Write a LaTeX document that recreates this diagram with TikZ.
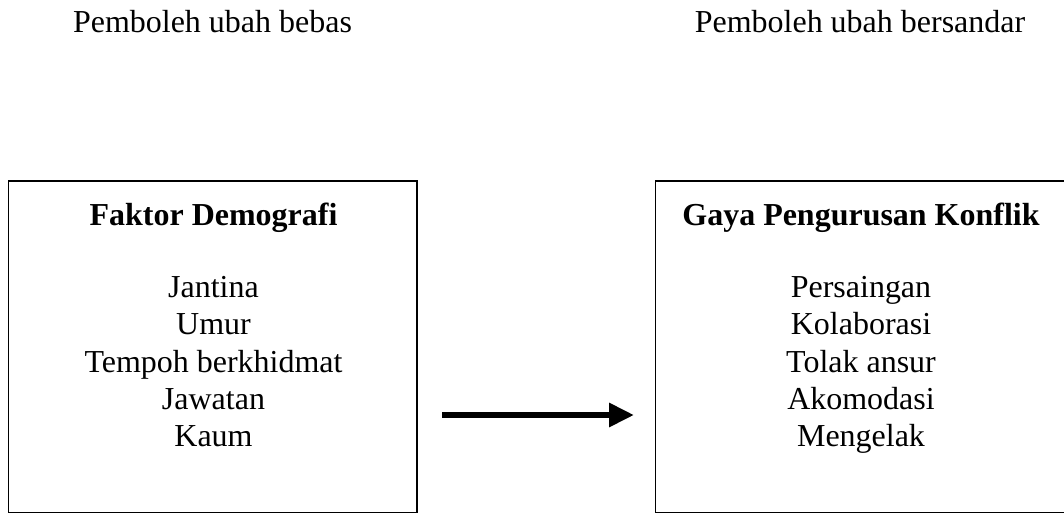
\documentclass[tikz,border=0pt]{standalone}
\usepackage{fontspec}
\setmainfont{Liberation Serif}
\usetikzlibrary{arrows.meta}

\begin{document}
\begin{tikzpicture}
\tikzset{kotak/.style={draw, line width=0.8pt, inner sep=0pt, minimum height=6.64cm},
         teks/.style={inner sep=0pt, font=\fontsize{18.2}{21.2}\selectfont},
         tajuk/.style={teks, font=\fontsize{18.2}{21.2}\selectfont\bfseries}}
\useasboundingbox (0, 0) rectangle (21.28, 10.24);
\clip (0, 0) rectangle (21.28, 10.24);
\node[teks, anchor=base] (bebas) at (4.25, 9.58) {Pemboleh ubah bebas};
\node[teks, anchor=base] (bersandar) at (17.2, 9.58) {Pemboleh ubah bersandar};
\node[kotak, minimum width=8.17cm] (kiri) at (4.255, 3.30) {};
\node[kotak, minimum width=8.26cm] (kanan) at (17.24, 3.30) {};
\node[tajuk, anchor=base] (tajukKiri) at (4.27, 5.74) {Faktor Demografi};
\node[tajuk, anchor=base] (tajukKanan) at (17.22, 5.74) {Gaya Pengurusan Konflik};
\node[teks, align=center, anchor=north] (senaraiKiri) at (4.27, 4.72)
  {Jantina\\Umur\\Tempoh berkhidmat\\Jawatan\\Kaum};
\node[teks, align=center, anchor=north] (senaraiKanan) at (17.22, 4.72)
  {Persaingan\\Kolaborasi\\Tolak ansur\\Akomodasi\\Mengelak};
\coordinate (mula) at (8.84, 1.94);
\coordinate (hujung) at (12.68, 1.94);
\draw[line width=3.4pt, -{Triangle[length=0.5cm, width=0.46cm]}] (mula) -- (hujung);
\end{tikzpicture}
\end{document}
